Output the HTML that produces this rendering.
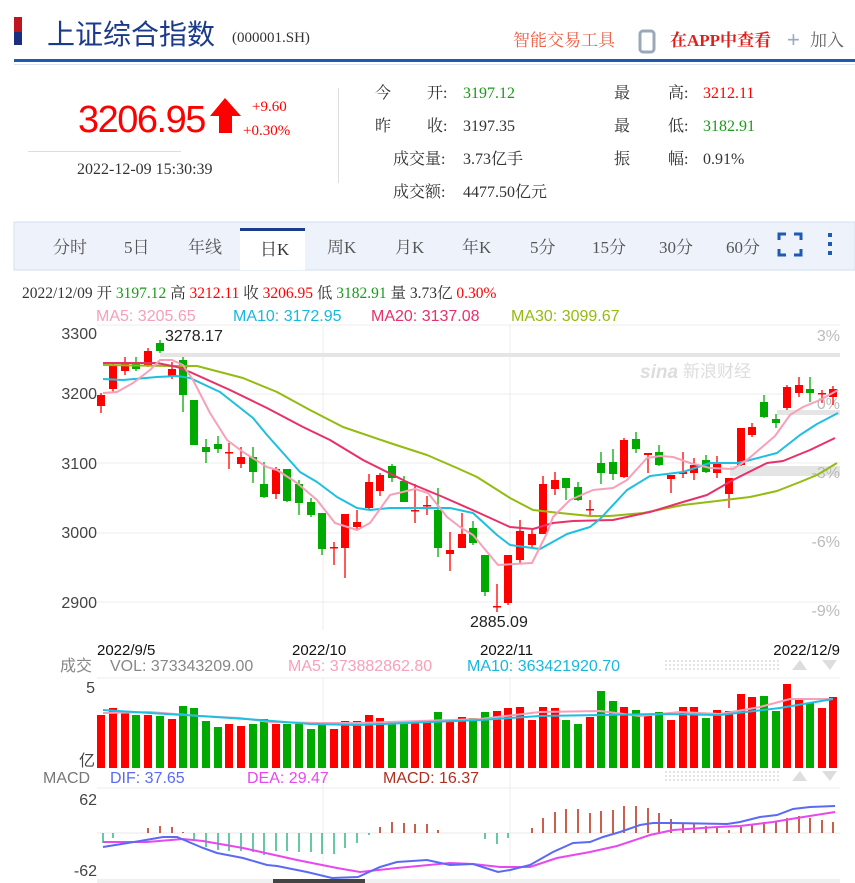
<!DOCTYPE html>
<html><head><meta charset="utf-8"><style>
html,body{margin:0;padding:0;background:#fff;width:855px;height:883px;overflow:hidden}
svg{display:block}
.s{font-family:"Liberation Sans","Noto Sans CJK SC",sans-serif}
.f{font-family:"Liberation Serif","Noto Serif CJK SC",serif}
</style></head><body>
<svg width="855" height="883" viewBox="0 0 855 883" xmlns="http://www.w3.org/2000/svg">
<rect x="14" y="17" width="8" height="15" fill="#c0141e"/><rect x="14" y="32" width="8" height="13" fill="#1a2f80"/>
<text x="47" y="44" class="s" font-size="28" fill="#1b3a8c">上证综合指数</text>
<text x="232" y="42" class="f" font-size="15" fill="#333">(000001.SH)</text>
<text x="513" y="46" class="f" font-size="17" fill="#f05a40">智能交易工具</text>
<rect x="640" y="31" width="14" height="21" rx="3" fill="none" stroke="#9aa8b8" stroke-width="3"/>
<text x="670" y="46" class="f" font-size="17" font-weight="bold" fill="#e01e1e">在APP中查看</text>
<text x="787" y="47" class="s" font-size="22" fill="#9aa8c0">+</text>
<text x="810" y="46" class="f" font-size="17" fill="#666">加入</text>
<rect x="14" y="59" width="841" height="3" fill="#1e5bb0"/>
<rect x="14" y="64" width="841" height="1" fill="#dde6f0"/>
<text x="78" y="132" class="s" font-size="38" fill="#f00" letter-spacing="-1.5">3206.95</text>
<polygon points="225,98 241,116 232,116 232,133 219,133 219,116 210,116" fill="#f00"/>
<text x="252" y="111" class="f" font-size="15" fill="#f00">+9.60</text>
<text x="243" y="135" class="f" font-size="15" fill="#f00">+0.30%</text>
<rect x="28" y="151" width="153" height="1" fill="#ddd"/>
<text x="77" y="174" class="f" font-size="16" fill="#333">2022-12-09 15:30:39</text>
<rect x="338" y="88" width="1" height="95" fill="#ddd"/>
<g class="f" font-size="16" fill="#333">
<text x="375" y="98">今</text><text x="427" y="98">开:</text><text x="463" y="98" fill="#1a9a1a">3197.12</text>
<text x="375" y="131">昨</text><text x="427" y="131">收:</text><text x="463" y="131">3197.35</text>
<text x="393" y="164">成交量:</text><text x="463" y="164">3.73亿手</text>
<text x="393" y="197">成交额:</text><text x="463" y="197">4477.50亿元</text>
<text x="614" y="98">最</text><text x="668" y="98">高:</text><text x="703" y="98" fill="#f00">3212.11</text>
<text x="614" y="131">最</text><text x="668" y="131">低:</text><text x="703" y="131" fill="#1a9a1a">3182.91</text>
<text x="614" y="164">振</text><text x="668" y="164">幅:</text><text x="703" y="164">0.91%</text>
</g>
<rect x="14" y="222" width="841" height="48" fill="#eef3fb" stroke="#d3dff0"/>
<rect x="240" y="228" width="65" height="42" fill="#fff"/>
<rect x="240" y="228" width="65" height="3" fill="#1a3a8c"/>
<g class="f" font-size="17" fill="#555">
<text x="53" y="253">分时</text><text x="124" y="253">5日</text><text x="188" y="253">年线</text><text x="260" y="255" fill="#333">日K</text>
<text x="327" y="253">周K</text><text x="395" y="253">月K</text><text x="462" y="253">年K</text><text x="530" y="253">5分</text>
<text x="592" y="253">15分</text><text x="659" y="253">30分</text><text x="726" y="253">60分</text>
</g>
<path d="M779 240v-6h7M794 234h7v6M779 249v6h7M794 255h7v-6" fill="none" stroke="#1e5bb0" stroke-width="3"/>
<rect x="828" y="233" width="4" height="4" fill="#1e5bb0"/><rect x="828" y="242" width="4" height="4" fill="#1e5bb0"/><rect x="828" y="251" width="4" height="4" fill="#1e5bb0"/>
<text x="22" y="298" class="f" font-size="15.5" fill="#333">2022/12/09 开 <tspan fill="#1a9a1a">3197.12</tspan> 高 <tspan fill="#f00">3212.11</tspan> 收 <tspan fill="#f00">3206.95</tspan> 低 <tspan fill="#1a9a1a">3182.91</tspan> 量 3.73亿 <tspan fill="#f00">0.30%</tspan></text>
<g class="s" font-size="16">
<text x="96" y="321" fill="#f7a0b8">MA5: 3205.65</text><text x="233" y="321" fill="#18b8dc">MA10: 3172.95</text>
<text x="371" y="321" fill="#e8306a">MA20: 3137.08</text><text x="511" y="321" fill="#93bb10">MA30: 3099.67</text>
</g>
<g stroke="#ececec" stroke-width="1">
<line x1="97" y1="325" x2="840" y2="325"/><line x1="97" y1="394" x2="840" y2="394"/><line x1="97" y1="463" x2="840" y2="463"/>
<line x1="97" y1="533" x2="840" y2="533"/><line x1="97" y1="602" x2="840" y2="602"/>
<line x1="323" y1="325" x2="323" y2="630"/><line x1="510" y1="325" x2="510" y2="630"/>
<line x1="97" y1="678" x2="840" y2="678"/><line x1="97" y1="788" x2="840" y2="788"/>
<line x1="323" y1="678" x2="323" y2="878"/><line x1="510" y1="678" x2="510" y2="878"/>
</g>
<rect x="160" y="353" width="680" height="4" fill="#e5e5e5"/>
<rect x="777" y="410" width="63" height="5" fill="#e5e5e5"/>
<rect x="730" y="466" width="110" height="10" fill="#e5e5e5"/>
<g class="s" font-size="16" fill="#444" text-anchor="end">
<text x="97" y="339">3300</text><text x="97" y="399">3200</text><text x="97" y="469">3100</text><text x="97" y="538">3000</text><text x="97" y="608">2900</text>
</g>
<g class="s" font-size="16" fill="#bbb" text-anchor="end">
<text x="840" y="341">3%</text><text x="840" y="409">0%</text><text x="840" y="478">-3%</text><text x="840" y="547">-6%</text><text x="840" y="616">-9%</text>
</g>
<text x="640" y="378" class="s" font-size="19" font-weight="bold" font-style="italic" fill="#ddd">sina</text>
<text x="683" y="377" class="s" font-size="17" fill="#ddd">新浪财经</text>
<text x="165" y="341" class="s" font-size="16" fill="#222">3278.17</text>
<text x="470" y="627" class="s" font-size="16" fill="#222">2885.09</text>
<g stroke-width="1.3">
<line x1="101" y1="393" x2="101" y2="413" stroke="#f00"/><rect x="97" y="395" width="8" height="11" fill="#f00"/>
<line x1="113" y1="363" x2="113" y2="392" stroke="#f00"/><rect x="109" y="365" width="8" height="24" fill="#f00"/>
<line x1="125" y1="357" x2="125" y2="375" stroke="#f00"/><rect x="121" y="362" width="8" height="9" fill="#f00"/>
<line x1="136" y1="357" x2="136" y2="371" stroke="#0a0"/><rect x="132" y="362" width="8" height="7" fill="#0a0"/>
<line x1="148" y1="348" x2="148" y2="367" stroke="#f00"/><rect x="144" y="351" width="8" height="14" fill="#f00"/>
<line x1="160" y1="340" x2="160" y2="353" stroke="#0a0"/><rect x="156" y="343" width="8" height="8" fill="#0a0"/>
<line x1="172" y1="362" x2="172" y2="379" stroke="#f00"/><rect x="168" y="369" width="8" height="7" fill="#f00"/>
<line x1="183" y1="357" x2="183" y2="412" stroke="#0a0"/><rect x="179" y="360" width="8" height="35" fill="#0a0"/>
<line x1="194" y1="400" x2="194" y2="445" stroke="#0a0"/><rect x="190" y="400" width="8" height="45" fill="#0a0"/>
<line x1="206" y1="439" x2="206" y2="463" stroke="#0a0"/><rect x="202" y="447" width="8" height="5" fill="#0a0"/>
<line x1="218" y1="436" x2="218" y2="453" stroke="#0a0"/><rect x="214" y="444" width="8" height="5" fill="#0a0"/>
<line x1="229" y1="443" x2="229" y2="469" stroke="#f00"/><rect x="225" y="452" width="8" height="1.5" fill="#f00"/>
<line x1="241" y1="447" x2="241" y2="468" stroke="#f00"/><rect x="237" y="457" width="8" height="7" fill="#f00"/>
<line x1="253" y1="447" x2="253" y2="483" stroke="#0a0"/><rect x="249" y="457" width="8" height="15" fill="#0a0"/>
<line x1="264" y1="462" x2="264" y2="498" stroke="#0a0"/><rect x="260" y="484" width="8" height="13" fill="#0a0"/>
<line x1="276" y1="467" x2="276" y2="499" stroke="#f00"/><rect x="272" y="469" width="8" height="25" fill="#f00"/>
<line x1="287" y1="469" x2="287" y2="502" stroke="#0a0"/><rect x="283" y="469" width="8" height="32" fill="#0a0"/>
<line x1="299" y1="480" x2="299" y2="515" stroke="#0a0"/><rect x="295" y="484" width="8" height="19" fill="#0a0"/>
<line x1="311" y1="498" x2="311" y2="517" stroke="#0a0"/><rect x="307" y="502" width="8" height="13" fill="#0a0"/>
<line x1="322" y1="513" x2="322" y2="555" stroke="#0a0"/><rect x="318" y="513" width="8" height="36" fill="#0a0"/>
<line x1="334" y1="542" x2="334" y2="565" stroke="#f00"/><rect x="330" y="547" width="8" height="1.5" fill="#f00"/>
<line x1="345" y1="514" x2="345" y2="578" stroke="#f00"/><rect x="341" y="514" width="8" height="34" fill="#f00"/>
<line x1="357" y1="510" x2="357" y2="529" stroke="#f00"/><rect x="353" y="522" width="8" height="5" fill="#f00"/>
<line x1="369" y1="474" x2="369" y2="509" stroke="#f00"/><rect x="365" y="482" width="8" height="26" fill="#f00"/>
<line x1="380" y1="473" x2="380" y2="496" stroke="#f00"/><rect x="376" y="475" width="8" height="16" fill="#f00"/>
<line x1="392" y1="464" x2="392" y2="482" stroke="#0a0"/><rect x="388" y="466" width="8" height="12" fill="#0a0"/>
<line x1="404" y1="476" x2="404" y2="502" stroke="#0a0"/><rect x="400" y="481" width="8" height="21" fill="#0a0"/>
<line x1="415" y1="484" x2="415" y2="523" stroke="#f00"/><rect x="411" y="510" width="8" height="1.5" fill="#f00"/>
<line x1="427" y1="496" x2="427" y2="515" stroke="#f00"/><rect x="423" y="505" width="8" height="1.5" fill="#f00"/>
<line x1="438" y1="488" x2="438" y2="557" stroke="#0a0"/><rect x="434" y="510" width="8" height="38" fill="#0a0"/>
<line x1="450" y1="532" x2="450" y2="571" stroke="#f00"/><rect x="446" y="550" width="8" height="4" fill="#f00"/>
<line x1="462" y1="513" x2="462" y2="548" stroke="#f00"/><rect x="458" y="534" width="8" height="14" fill="#f00"/>
<line x1="473" y1="521" x2="473" y2="545" stroke="#0a0"/><rect x="469" y="528" width="8" height="15" fill="#0a0"/>
<line x1="485" y1="555" x2="485" y2="596" stroke="#0a0"/><rect x="481" y="555" width="8" height="37" fill="#0a0"/>
<line x1="497" y1="584" x2="497" y2="612" stroke="#f00"/><rect x="493" y="606" width="8" height="1.5" fill="#f00"/>
<line x1="508" y1="555" x2="508" y2="605" stroke="#f00"/><rect x="504" y="555" width="8" height="48" fill="#f00"/>
<line x1="520" y1="520" x2="520" y2="563" stroke="#f00"/><rect x="516" y="531" width="8" height="29" fill="#f00"/>
<line x1="532" y1="530" x2="532" y2="548" stroke="#f00"/><rect x="528" y="534" width="8" height="11" fill="#f00"/>
<line x1="543" y1="476" x2="543" y2="534" stroke="#f00"/><rect x="539" y="484" width="8" height="50" fill="#f00"/>
<line x1="555" y1="472" x2="555" y2="495" stroke="#f00"/><rect x="551" y="480" width="8" height="9" fill="#f00"/>
<line x1="566" y1="478" x2="566" y2="500" stroke="#0a0"/><rect x="562" y="478" width="8" height="10" fill="#0a0"/>
<line x1="578" y1="482" x2="578" y2="501" stroke="#0a0"/><rect x="574" y="487" width="8" height="13" fill="#0a0"/>
<line x1="590" y1="500" x2="590" y2="515" stroke="#f00"/><rect x="586" y="509" width="8" height="1.5" fill="#f00"/>
<line x1="601" y1="452" x2="601" y2="484" stroke="#0a0"/><rect x="597" y="463" width="8" height="10" fill="#0a0"/>
<line x1="613" y1="449" x2="613" y2="480" stroke="#0a0"/><rect x="609" y="462" width="8" height="12" fill="#0a0"/>
<line x1="624" y1="438" x2="624" y2="478" stroke="#f00"/><rect x="620" y="440" width="8" height="37" fill="#f00"/>
<line x1="636" y1="432" x2="636" y2="453" stroke="#0a0"/><rect x="632" y="439" width="8" height="10" fill="#0a0"/>
<line x1="648" y1="453" x2="648" y2="473" stroke="#f00"/><rect x="644" y="453" width="8" height="2" fill="#f00"/>
<line x1="659" y1="445" x2="659" y2="466" stroke="#0a0"/><rect x="655" y="452" width="8" height="13" fill="#0a0"/>
<line x1="671" y1="475" x2="671" y2="493" stroke="#f00"/><rect x="667" y="475" width="8" height="4" fill="#f00"/>
<line x1="683" y1="452" x2="683" y2="478" stroke="#f00"/><rect x="679" y="472" width="8" height="2" fill="#f00"/>
<line x1="694" y1="458" x2="694" y2="480" stroke="#f00"/><rect x="690" y="465" width="8" height="8" fill="#f00"/>
<line x1="706" y1="455" x2="706" y2="473" stroke="#0a0"/><rect x="702" y="460" width="8" height="12" fill="#0a0"/>
<line x1="717" y1="456" x2="717" y2="478" stroke="#f00"/><rect x="713" y="462" width="8" height="11" fill="#f00"/>
<line x1="729" y1="478" x2="729" y2="508" stroke="#f00"/><rect x="725" y="478" width="8" height="16" fill="#f00"/>
<line x1="741" y1="428" x2="741" y2="466" stroke="#f00"/><rect x="737" y="428" width="8" height="37" fill="#f00"/>
<line x1="752" y1="423" x2="752" y2="437" stroke="#f00"/><rect x="748" y="427" width="8" height="8" fill="#f00"/>
<line x1="764" y1="395" x2="764" y2="418" stroke="#0a0"/><rect x="760" y="402" width="8" height="15" fill="#0a0"/>
<line x1="776" y1="414" x2="776" y2="428" stroke="#0a0"/><rect x="772" y="419" width="8" height="4" fill="#0a0"/>
<line x1="787" y1="385" x2="787" y2="410" stroke="#f00"/><rect x="783" y="387" width="8" height="21" fill="#f00"/>
<line x1="799" y1="377" x2="799" y2="397" stroke="#f00"/><rect x="795" y="385" width="8" height="8" fill="#f00"/>
<line x1="810" y1="377" x2="810" y2="402" stroke="#0a0"/><rect x="806" y="389" width="8" height="4" fill="#0a0"/>
<line x1="822" y1="390" x2="822" y2="403" stroke="#f00"/><rect x="818" y="393" width="8" height="1.5" fill="#f00"/>
<line x1="833" y1="386" x2="833" y2="405" stroke="#f00"/><rect x="829" y="389" width="8" height="8" fill="#f00"/>
</g>
<g fill="none" stroke-width="2" stroke-linejoin="round">
<polyline stroke="#93bb10" points="103,365 173,366 197,366 243,378 277,392 310,410 343,427 390,443 427,455 457,468 477,477 510,498 533,510 560,513 590,516 610,516 643,513 683,505 717,501 733,499 750,497 777,491 800,482 817,475 837,463"/>
<polyline stroke="#e8306a" points="103,363 157,363 177,367 190,372 230,390 267,408 303,427 330,440 363,460 407,482 443,497 477,512 510,527 533,529 553,523 573,521 613,520 650,512 683,502 707,495 733,480 767,463 783,461 810,450 835,438"/>
<polyline stroke="#1ebfe0" points="103,379 123,380 157,377 177,376 190,378 220,392 253,418 267,435 300,472 317,482 337,497 357,508 370,510 390,508 450,508 473,513 497,535 510,545 540,549 567,534 590,527 600,519 627,490 650,476 683,472 710,463 737,463 750,460 777,453 800,435 817,424 838,413"/>
<polyline stroke="#f7a0b8" points="103,393 117,392 133,383 150,370 160,360 172,360 183,365 193,380 210,413 227,440 243,452 267,467 277,470 297,483 317,500 335,523 357,530 370,523 390,495 415,489 428,493 447,517 460,527 473,535 483,547 498,565 532,563 547,533 553,517 570,500 593,490 613,488 627,480 647,458 660,456 673,457 690,463 710,468 733,469 747,460 775,436 790,415 803,407 820,400 838,390"/>
</g>
<g class="s" font-size="15" fill="#111">
<text x="97" y="655">2022/9/5</text><text x="292" y="655">2022/10</text><text x="480" y="655">2022/11</text><text x="840" y="655" text-anchor="end">2022/12/9</text>
</g>
<g class="s" font-size="16">
<text x="60" y="671" fill="#888">成交</text><text x="110" y="671" fill="#888">VOL: 373343209.00</text>
<text x="288" y="671" fill="#f7a0b8">MA5: 373882862.80</text><text x="467" y="671" fill="#18b8dc">MA10: 363421920.70</text>
<text x="95" y="693" fill="#444" text-anchor="end">5</text><text x="95" y="766" fill="#444" text-anchor="end">亿</text>
</g>
<g stroke="#e4e4e4" stroke-width="2" stroke-dasharray="2,2">
<line x1="665" y1="661" x2="780" y2="661"/><line x1="665" y1="665" x2="780" y2="665"/><line x1="665" y1="669" x2="780" y2="669"/>
<line x1="665" y1="772" x2="780" y2="772"/><line x1="665" y1="776" x2="780" y2="776"/><line x1="665" y1="780" x2="780" y2="780"/>
</g>
<polygon points="792,670 807,670 800,660" fill="#ddd"/><polygon points="822,660 837,660 830,670" fill="#ddd"/>
<polygon points="792,781 807,781 800,771" fill="#ddd"/><polygon points="822,771 837,771 830,781" fill="#ddd"/>
<g>
<rect x="97" y="715" width="8" height="53" fill="#f00"/><rect x="109" y="708" width="8" height="60" fill="#f00"/><rect x="121" y="711" width="8" height="57" fill="#f00"/><rect x="132" y="715" width="8" height="53" fill="#0a0"/>
<rect x="144" y="715" width="8" height="53" fill="#f00"/><rect x="156" y="716" width="8" height="52" fill="#0a0"/><rect x="168" y="719" width="8" height="49" fill="#f00"/><rect x="179" y="706" width="8" height="62" fill="#0a0"/>
<rect x="190" y="708" width="8" height="60" fill="#0a0"/><rect x="202" y="721" width="8" height="47" fill="#0a0"/><rect x="214" y="727" width="8" height="41" fill="#0a0"/><rect x="225" y="724" width="8" height="44" fill="#f00"/>
<rect x="237" y="726" width="8" height="42" fill="#f00"/><rect x="249" y="724" width="8" height="44" fill="#0a0"/><rect x="260" y="719" width="8" height="49" fill="#0a0"/><rect x="272" y="724" width="8" height="44" fill="#f00"/>
<rect x="283" y="724" width="8" height="44" fill="#0a0"/><rect x="295" y="724" width="8" height="44" fill="#0a0"/><rect x="307" y="729" width="8" height="39" fill="#0a0"/><rect x="318" y="723" width="8" height="45" fill="#0a0"/>
<rect x="330" y="729" width="8" height="39" fill="#f00"/><rect x="341" y="721" width="8" height="47" fill="#f00"/><rect x="353" y="721" width="8" height="47" fill="#f00"/><rect x="365" y="715" width="8" height="53" fill="#f00"/>
<rect x="376" y="718" width="8" height="50" fill="#f00"/><rect x="388" y="721" width="8" height="47" fill="#0a0"/><rect x="400" y="724" width="8" height="44" fill="#0a0"/><rect x="411" y="721" width="8" height="47" fill="#f00"/>
<rect x="423" y="722" width="8" height="46" fill="#f00"/><rect x="434" y="712" width="8" height="56" fill="#0a0"/><rect x="446" y="721" width="8" height="47" fill="#f00"/><rect x="458" y="717" width="8" height="51" fill="#f00"/>
<rect x="469" y="718" width="8" height="50" fill="#0a0"/><rect x="481" y="712" width="8" height="56" fill="#0a0"/><rect x="493" y="711" width="8" height="57" fill="#f00"/><rect x="504" y="708" width="8" height="60" fill="#f00"/>
<rect x="516" y="707" width="8" height="61" fill="#f00"/><rect x="528" y="720" width="8" height="48" fill="#f00"/><rect x="539" y="707" width="8" height="61" fill="#f00"/><rect x="551" y="708" width="8" height="60" fill="#f00"/>
<rect x="562" y="720" width="8" height="48" fill="#0a0"/><rect x="574" y="724" width="8" height="44" fill="#0a0"/><rect x="586" y="717" width="8" height="51" fill="#f00"/><rect x="597" y="691" width="8" height="77" fill="#0a0"/>
<rect x="609" y="701" width="8" height="67" fill="#0a0"/><rect x="620" y="707" width="8" height="61" fill="#f00"/><rect x="632" y="710" width="8" height="58" fill="#0a0"/><rect x="644" y="714" width="8" height="54" fill="#f00"/>
<rect x="655" y="712" width="8" height="56" fill="#0a0"/><rect x="667" y="720" width="8" height="48" fill="#f00"/><rect x="679" y="707" width="8" height="61" fill="#f00"/><rect x="690" y="707" width="8" height="61" fill="#f00"/>
<rect x="702" y="718" width="8" height="50" fill="#0a0"/><rect x="713" y="710" width="8" height="58" fill="#f00"/><rect x="725" y="711" width="8" height="57" fill="#f00"/><rect x="737" y="694" width="8" height="74" fill="#f00"/>
<rect x="748" y="697" width="8" height="71" fill="#f00"/><rect x="760" y="696" width="8" height="72" fill="#0a0"/><rect x="772" y="711" width="8" height="57" fill="#0a0"/><rect x="783" y="684" width="8" height="84" fill="#f00"/>
<rect x="795" y="698" width="8" height="70" fill="#f00"/><rect x="806" y="703" width="8" height="65" fill="#0a0"/><rect x="818" y="708" width="8" height="60" fill="#f00"/><rect x="829" y="697" width="8" height="71" fill="#f00"/>
</g>
<g fill="none" stroke-width="2">
<polyline stroke="#f7a0b8" points="103,713 150,712 200,716 240,718 270,722 320,723 360,723 420,721 480,719 540,712 600,711 640,716 680,712 720,714 760,707 790,699 833,699"/>
<polyline stroke="#1ebfe0" points="103,710 150,713 200,716 260,720 310,724 360,725 430,722 480,720 540,716 600,715 660,714 720,715 780,708 833,699"/>
</g>
<g class="s" font-size="16">
<text x="43" y="783" fill="#777">MACD</text><text x="110" y="783" fill="#5a6af5">DIF: 37.65</text>
<text x="247" y="783" fill="#e848f0">DEA: 29.47</text><text x="383" y="783" fill="#b03020">MACD: 16.37</text>
<text x="97" y="805" fill="#444" text-anchor="end">62</text><text x="97" y="876" fill="#444" text-anchor="end">-62</text>
</g>
<line x1="97" y1="833" x2="840" y2="833" stroke="#e8e8e8"/>
<g stroke-width="1.5" stroke="#2fb884">
<line x1="103" y1="833" x2="103" y2="843"/><line x1="113" y1="833" x2="113" y2="838"/>
<line x1="194" y1="833" x2="194" y2="841"/><line x1="206" y1="833" x2="206" y2="847"/><line x1="218" y1="833" x2="218" y2="850"/><line x1="229" y1="833" x2="229" y2="851"/>
<line x1="241" y1="833" x2="241" y2="851"/><line x1="253" y1="833" x2="253" y2="852"/><line x1="264" y1="833" x2="264" y2="855"/><line x1="276" y1="833" x2="276" y2="851"/>
<line x1="287" y1="833" x2="287" y2="851"/><line x1="299" y1="833" x2="299" y2="852"/><line x1="311" y1="833" x2="311" y2="852"/><line x1="322" y1="833" x2="322" y2="854"/>
<line x1="334" y1="833" x2="334" y2="854"/><line x1="345" y1="833" x2="345" y2="848"/><line x1="357" y1="833" x2="357" y2="843"/><line x1="369" y1="833" x2="369" y2="835"/>
<line x1="485" y1="833" x2="485" y2="839"/><line x1="497" y1="833" x2="497" y2="844"/><line x1="508" y1="833" x2="508" y2="838"/>
</g>
<g stroke-width="1.5" stroke="#b82a10">
<line x1="148" y1="833" x2="148" y2="828"/><line x1="160" y1="833" x2="160" y2="826"/><line x1="172" y1="833" x2="172" y2="827"/><line x1="183" y1="833" x2="183" y2="832"/>
<line x1="380" y1="833" x2="380" y2="827"/><line x1="392" y1="833" x2="392" y2="822"/><line x1="404" y1="833" x2="404" y2="823"/><line x1="415" y1="833" x2="415" y2="824"/><line x1="427" y1="833" x2="427" y2="824"/><line x1="438" y1="833" x2="438" y2="830"/>
<line x1="532" y1="833" x2="532" y2="828"/><line x1="543" y1="833" x2="543" y2="818"/><line x1="555" y1="833" x2="555" y2="812"/><line x1="566" y1="833" x2="566" y2="809"/>
<line x1="578" y1="833" x2="578" y2="809"/><line x1="590" y1="833" x2="590" y2="813"/><line x1="601" y1="833" x2="601" y2="811"/><line x1="613" y1="833" x2="613" y2="810"/>
<line x1="624" y1="833" x2="624" y2="806"/><line x1="636" y1="833" x2="636" y2="806"/><line x1="648" y1="833" x2="648" y2="808"/><line x1="659" y1="833" x2="659" y2="813"/>
<line x1="671" y1="833" x2="671" y2="819"/><line x1="683" y1="833" x2="683" y2="823"/><line x1="694" y1="833" x2="694" y2="824"/><line x1="706" y1="833" x2="706" y2="826"/>
<line x1="717" y1="833" x2="717" y2="827"/><line x1="729" y1="833" x2="729" y2="830"/><line x1="741" y1="833" x2="741" y2="827"/><line x1="752" y1="833" x2="752" y2="824"/>
<line x1="764" y1="833" x2="764" y2="822"/><line x1="776" y1="833" x2="776" y2="821"/><line x1="787" y1="833" x2="787" y2="818"/><line x1="799" y1="833" x2="799" y2="816"/>
<line x1="810" y1="833" x2="810" y2="818"/><line x1="822" y1="833" x2="822" y2="820"/><line x1="833" y1="833" x2="833" y2="822"/>
</g>
<g fill="none" stroke-width="2">
<polyline stroke="#e848f0" points="103,842 147,842 183,839 203,841 243,848 297,860 337,868 360,872 397,868 450,863 473,864 500,867 530,867 557,858 590,852 617,846 650,835 673,830 717,827 740,826 773,822 797,818 835,812"/>
<polyline stroke="#5a6af5" points="103,847 140,841 163,837 177,837 203,848 217,853 243,858 267,865 277,866 307,872 332,878 358,877 380,867 397,862 427,860 450,865 473,864 498,872 510,870 530,865 553,852 573,843 590,842 603,837 620,832 640,825 653,823 673,823 727,824 740,822 760,817 777,815 793,809 810,807 835,806"/>
</g>
<rect x="97" y="879" width="743" height="4" fill="#f0f0f0"/>
<rect x="273" y="879" width="92" height="4" fill="#444"/>
</svg>
</body></html>
